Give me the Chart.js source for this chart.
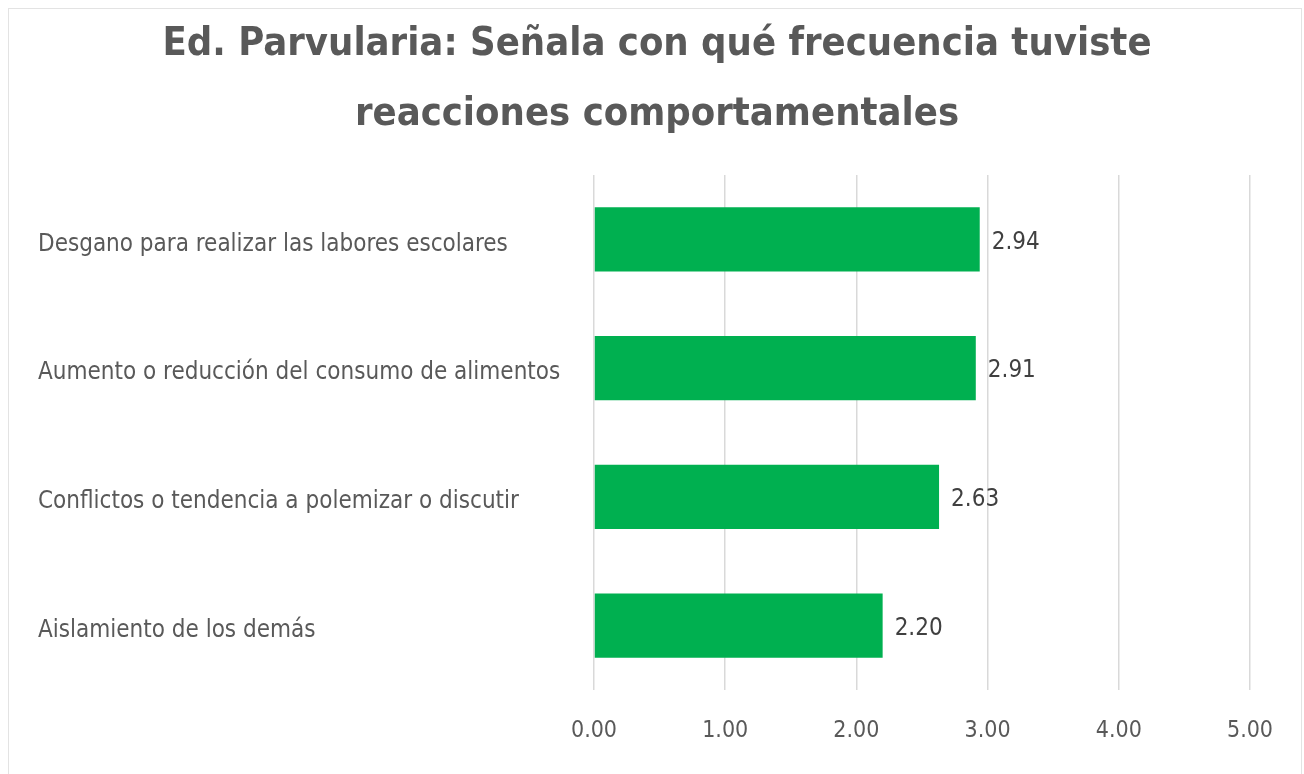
<!DOCTYPE html>
<html>
<head>
<meta charset="utf-8">
<script src="https://cdn.jsdelivr.net/npm/chart.js@4"></script>
<style>
  body { margin: 0; background: #fff; }
  #frame { position: absolute; left: 8px; top: 8px; width: 1294px; height: 770px; border: 1px solid #e3e3e3; box-sizing: border-box; }
  #wrap { position: absolute; left: 0; top: 0; width: 1304px; height: 774px; }
</style>
</head>
<body>
<div id="frame"></div>
<div id="wrap"><canvas id="myChart"></canvas></div>
<script>
var titleLines = ["Ed. Parvularia: Señala con qué frecuencia tuviste", "reacciones comportamentales"];
var categories = [
    "Desgano para realizar las labores escolares",
    "Aumento o reducción del consumo de alimentos",
    "Conflictos o tendencia a polemizar o discutir",
    "Aislamiento de los demás"
];
var values = [2.94, 2.91, 2.63, 2.20];
var tickValues = [0, 1, 2, 3, 4, 5];

var FONT = "'Liberation Sans Narrow', 'DejaVu Sans Condensed', 'Open Sans', sans-serif";

// title drawn by hand so it can sit centred on the frame, not on the padded area
var chartTitle = {
    id: 'chartTitle',
    afterDraw: function(chart) {
        var ctx = chart.ctx;
        ctx.save();
        ctx.font = "bold 39.6px " + FONT;
        ctx.fillStyle = '#595959';
        ctx.textAlign = 'center';
        ctx.textBaseline = 'alphabetic';
        ctx.fillText(titleLines[0], 657, 55);
        ctx.fillText(titleLines[1], 657, 125);
        ctx.restore();
    }
};

// value labels at the end of the bars
var barLabels = {
    id: 'barLabels',
    afterDatasetsDraw: function(chart) {
        var ctx = chart.ctx;
        var meta = chart.getDatasetMeta(0);
        ctx.save();
        ctx.font = "24px " + FONT;
        ctx.fillStyle = '#404040';
        ctx.textAlign = 'left';
        ctx.textBaseline = 'middle';
        meta.data.forEach(function(bar, i) {
            ctx.fillText(values[i].toFixed(2), bar.x + 12, bar.y + 3);
        });
        ctx.restore();
    }
};

var ctx = document.getElementById('myChart').getContext('2d');
var chart = new Chart(ctx, {
    type: 'bar',
    data: {
        labels: categories,
        datasets: [{
            data: values,
            backgroundColor: '#00B050',
            borderWidth: 0,
            barPercentage: 0.5,
            categoryPercentage: 1
        }]
    },
    plugins: [barLabels, chartTitle],
    options: {
        indexAxis: 'y',
        responsive: true,
        maintainAspectRatio: false,
        animation: false,
        layout: { padding: { left: 38, right: 54, top: 175, bottom: 8 } },
        plugins: {
            legend: { display: false },
            tooltip: { enabled: false },
            title: { display: false }
        },
        scales: {
            x: {
                min: 0,
                max: 5,
                afterBuildTicks: function(axis) {
                    axis.ticks = tickValues.map(function(v) { return { value: v }; });
                },
                afterFit: function(axis) { axis.height = 76; },
                grid: { color: '#d9d9d9', lineWidth: 1.5, drawTicks: false },
                border: { display: false },
                ticks: {
                    color: '#595959',
                    padding: 27,
                    font: { family: FONT, size: 23 },
                    callback: function(v) { return Number(v).toFixed(2); }
                }
            },
            y: {
                grid: { display: false },
                border: { display: false },
                afterFit: function(axis) { axis.width = 556; },
                ticks: {
                    color: '#595959',
                    crossAlign: 'far',
                    labelOffset: 5,
                    font: { family: FONT, size: 24 }
                }
            }
        }
    }
});
</script>
</body>
</html>
